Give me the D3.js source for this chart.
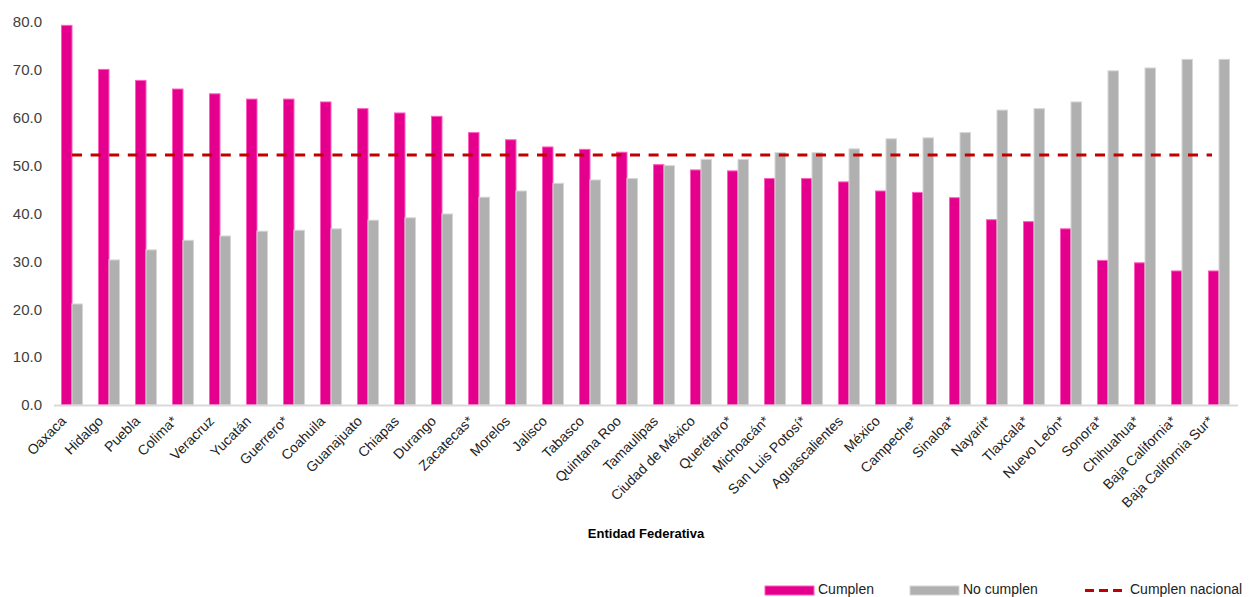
<!DOCTYPE html>
<html>
<head>
<meta charset="utf-8">
<script src="https://cdn.jsdelivr.net/npm/d3@7"></script>
<style>
  html, body { margin: 0; padding: 0; background: #fff; }
  svg { display: block; font-family: "Liberation Sans", Arial, sans-serif; }
</style>
</head>
<body>
<svg id="chart" width="1250" height="597"></svg>
<script>
const categories = ["Oaxaca","Hidalgo","Puebla","Colima*","Veracruz","Yucatán","Guerrero*","Coahuila","Guanajuato","Chiapas","Durango","Zacatecas*","Morelos","Jalisco","Tabasco","Quintana Roo","Tamaulipas","Ciudad de México","Querétaro*","Michoacán*","San Luis Potosí*","Aguascalientes","México","Campeche*","Sinaloa*","Nayarit*","Tlaxcala*","Nuevo León*","Sonora*","Chihuahua*","Baja California*","Baja California Sur*"];
const cumplen = [79.3,70.1,67.8,66.0,65.0,63.9,63.9,63.3,61.9,61.0,60.3,56.9,55.4,53.9,53.4,52.8,50.2,49.1,48.9,47.3,47.3,46.6,44.7,44.4,43.3,38.7,38.3,36.8,30.2,29.7,28.0,28.0];
const noCumplen = [21.1,30.3,32.4,34.4,35.3,36.3,36.5,36.8,38.6,39.1,39.9,43.4,44.7,46.3,47.0,47.3,50.0,51.3,51.3,52.7,52.7,53.5,55.6,55.8,56.9,61.6,61.9,63.3,69.8,70.4,72.2,72.2];
const nacional = 52.2;
const yTicks = [0,10,20,30,40,50,60,70,80];
const seriesNames = ["Cumplen","No cumplen","Cumplen nacional"];
const xTitle = "Entidad Federativa";

const svg = d3.select("#chart");
const x = d3.scaleBand().domain(categories).range([53.5, 1237.5]);
const y = d3.scaleLinear().domain([0, 80]).range([405, 22]);
const barW = 10.5;
const pink = "#e4008c", pinkEdge = "#ff5cbf", gray = "#b0b0b0", grayEdge = "#d6d6d6";

// y axis labels
const yAxis = d3.axisLeft(y).tickValues(yTicks).tickFormat(d3.format(".1f")).tickSize(0).tickPadding(0);
const gy = svg.append("g").attr("transform", "translate(42,0)").call(yAxis);
gy.select(".domain").remove();
gy.selectAll("text").attr("fill", "#404040").style("font-size", "15px").style("font-family", "'Liberation Sans', Arial, sans-serif");

// bars
const cx = d => x(d) + x.bandwidth() / 2;
svg.append("g").selectAll("rect").data(categories).join("rect")
  .attr("x", (d) => cx(d) - barW)
  .attr("y", (d, i) => y(cumplen[i]))
  .attr("width", barW)
  .attr("height", (d, i) => y(0) - y(cumplen[i]))
  .attr("fill", pink).attr("stroke", pinkEdge).attr("stroke-width", 1);
svg.append("g").selectAll("rect").data(categories).join("rect")
  .attr("x", (d) => cx(d))
  .attr("y", (d, i) => y(noCumplen[i]))
  .attr("width", barW)
  .attr("height", (d, i) => y(0) - y(noCumplen[i]))
  .attr("fill", gray).attr("stroke", grayEdge).attr("stroke-width", 1);

// x axis
const xAxis = d3.axisBottom(x).tickSize(0).tickPadding(0);
const gx = svg.append("g").attr("transform", "translate(0," + y(0) + ")").call(xAxis);
gx.select(".domain").attr("stroke", "#d9d9d9").attr("stroke-width", 2);
gx.selectAll("text")
  .attr("fill", "#222").style("font-size", "14px").style("font-family", "'Liberation Sans', Arial, sans-serif")
  .attr("text-anchor", "end").attr("dy", null).attr("y", 0)
  .attr("transform", "translate(-5,17) rotate(-45)");

// national line
svg.append("line")
  .attr("x1", cx(categories[0])).attr("x2", cx(categories[categories.length - 1]) - 7)
  .attr("y1", y(nacional)).attr("y2", y(nacional))
  .attr("stroke", "#c00000").attr("stroke-width", 3).attr("stroke-dasharray", "10,8.6");

// axis title
svg.append("text").attr("x", 646).attr("y", 538).attr("text-anchor", "middle")
  .style("font-size", "13px").style("font-weight", "bold").attr("fill", "#000").text(xTitle);

// legend
const lg = svg.append("g");
lg.append("rect").attr("x", 765).attr("y", 586).attr("width", 49).attr("height", 9).attr("fill", pink).attr("stroke", pinkEdge);
lg.append("text").attr("x", 818).attr("y", 594).style("font-size", "14px").attr("fill", "#222").text(seriesNames[0]);
lg.append("rect").attr("x", 910).attr("y", 586).attr("width", 49).attr("height", 9).attr("fill", gray).attr("stroke", grayEdge);
lg.append("text").attr("x", 963).attr("y", 594).style("font-size", "14px").attr("fill", "#222").text(seriesNames[1]);
lg.append("line").attr("x1", 1085).attr("x2", 1123).attr("y1", 590.5).attr("y2", 590.5)
  .attr("stroke", "#c00000").attr("stroke-width", 3).attr("stroke-dasharray", "9,5");
lg.append("text").attr("x", 1130).attr("y", 594).style("font-size", "14px").attr("fill", "#222").text(seriesNames[2]);
</script>
</body>
</html>
